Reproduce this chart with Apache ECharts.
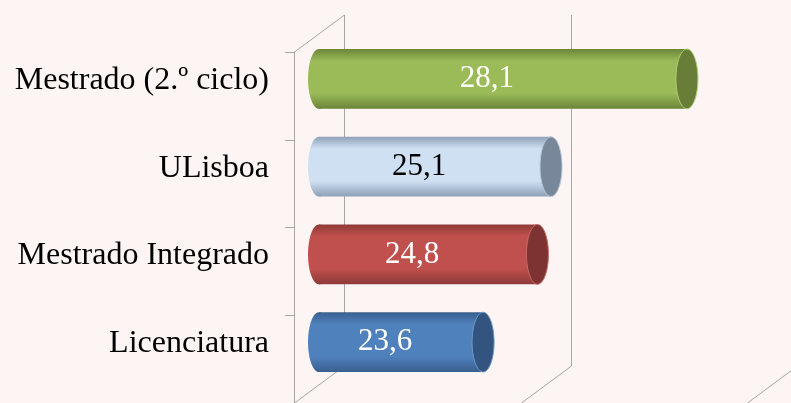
<!DOCTYPE html>
<html><head><meta charset="utf-8">
<script src="https://cdn.jsdelivr.net/npm/echarts@6/dist/echarts.min.js"></script>
<style>html,body{margin:0;padding:0;background:#FDF5F3;}#c{width:791px;height:403px;}</style>
</head><body><div id="c"></div>
<script>
const categories = ['Licenciatura', 'Mestrado Integrado', 'ULisboa', 'Mestrado (2.º ciclo)'];
const values = [23.6, 24.8, 25.1, 28.1];
const tickValues = [20, 25, 30];
const axisMin = 20, axisMax = 30, axisInterval = 5;

const palette = [
  {edge:'#3A5F8E', mid:'#4F81BD', cap:'#33547E', capStroke:'#6F98CB', label:'#FFFFFF'},
  {edge:'#8E3A38', mid:'#C0504D', cap:'#7D3331', capStroke:'#C96A67', label:'#FFFFFF'},
  {edge:'#8FA1B7', mid:'#CFE0F3', cap:'#78889A', capStroke:'#B9C9DC', label:'#000000'},
  {edge:'#6B8538', mid:'#9BBB59', cap:'#677D38', capStroke:'#B0CE74', label:'#FFFFFF'}
];
const DX = 50, DY = -37;
const gridColor = '#A6A6A6';

function renderGrid(params, api) {
  const cs = params.coordSys;
  const v = api.value(0);
  const x = Math.round(api.coord([v, 0])[0]) + 0.5;
  const top = cs.y, bottom = cs.y + cs.height;
  const style = {stroke: gridColor, lineWidth: 1};
  const children = [
    {type:'line', shape:{x1:x+DX, y1:top+DY, x2:x+DX, y2:bottom+DY}, style},
    {type:'line', shape:{x1:x, y1:bottom, x2:x+DX, y2:bottom+DY}, style}
  ];
  if (params.dataIndex === 0) {
    children.push({type:'line', shape:{x1:x, y1:top, x2:x+DX, y2:top+DY}, style});
  }
  return {type:'group', children};
}

function renderBar(params, api) {
  const i = params.dataIndex;
  const val = api.value(0);
  const cat = api.value(1);
  const p0 = api.coord([axisMin, cat]);
  const p1 = api.coord([val, cat]);
  const band = api.size([0, 1])[1];
  const ry = band * 0.34, rx = 11;
  const cy = p0[1] + DY / 2 + 1.5;
  const x0 = p0[0] + DX / 2, x1 = p1[0] + DX / 2 + 1;
  const c = palette[i];
  const grad = () => ({type:'linear', x:0, y:0, x2:0, y2:1, colorStops:[
    {offset:0, color:c.edge}, {offset:0.2, color:c.mid}, {offset:0.74, color:c.mid}, {offset:1, color:c.edge}
  ]});
  const txt = val.toFixed(1).replace('.', ',');
  return {type:'group', children:[
    {type:'ellipse', shape:{cx:x0, cy:cy, rx:rx, ry:ry}, style:{fill:grad()}},
    {type:'rect', shape:{x:x0, y:cy-ry, width:x1-x0, height:2*ry}, style:{fill:grad()}},
    {type:'ellipse', shape:{cx:x1, cy:cy, rx:rx, ry:ry}, style:{fill:c.cap, stroke:c.capStroke, lineWidth:1}},
    {type:'text', style:{text:txt, x:(x0+x1)/2 - 16, y:cy, fill:c.label,
      font:'31px "Liberation Serif"', align:'center', verticalAlign:'middle'}}
  ]};
}

const chart = echarts.init(document.getElementById('c'));
chart.setOption({
  backgroundColor: '#FDF5F3',
  animation: false,
  grid: {left: 294, top: 52, width: 453, height: 355},
  xAxis: {type:'value', min: axisMin, max: axisMax, interval: axisInterval,
    axisLine:{show:false}, axisTick:{show:false}, axisLabel:{show:false}, splitLine:{show:false}},
  yAxis: {type:'category', data: categories,
    axisLine:{show:true, lineStyle:{color:gridColor, width:1}},
    axisTick:{show:true, length:9, lineStyle:{color:gridColor}},
    axisLabel:{fontSize:32, fontFamily:'"Liberation Serif"', color:'#000', margin:25,
      verticalAlign:'bottom', lineHeight:31},
    splitLine:{show:false}},
  series: [
    {type:'custom', name:'grid', renderItem: renderGrid, clip:false, silent:true, z:1,
      data: tickValues.map(v => [v]), encode:{x:0}},
    {type:'custom', name:'bars', renderItem: renderBar, clip:false, z:5,
      data: values.map((v, k) => [v, k]), encode:{x:0, y:1}}
  ]
});
</script>
</body></html>
